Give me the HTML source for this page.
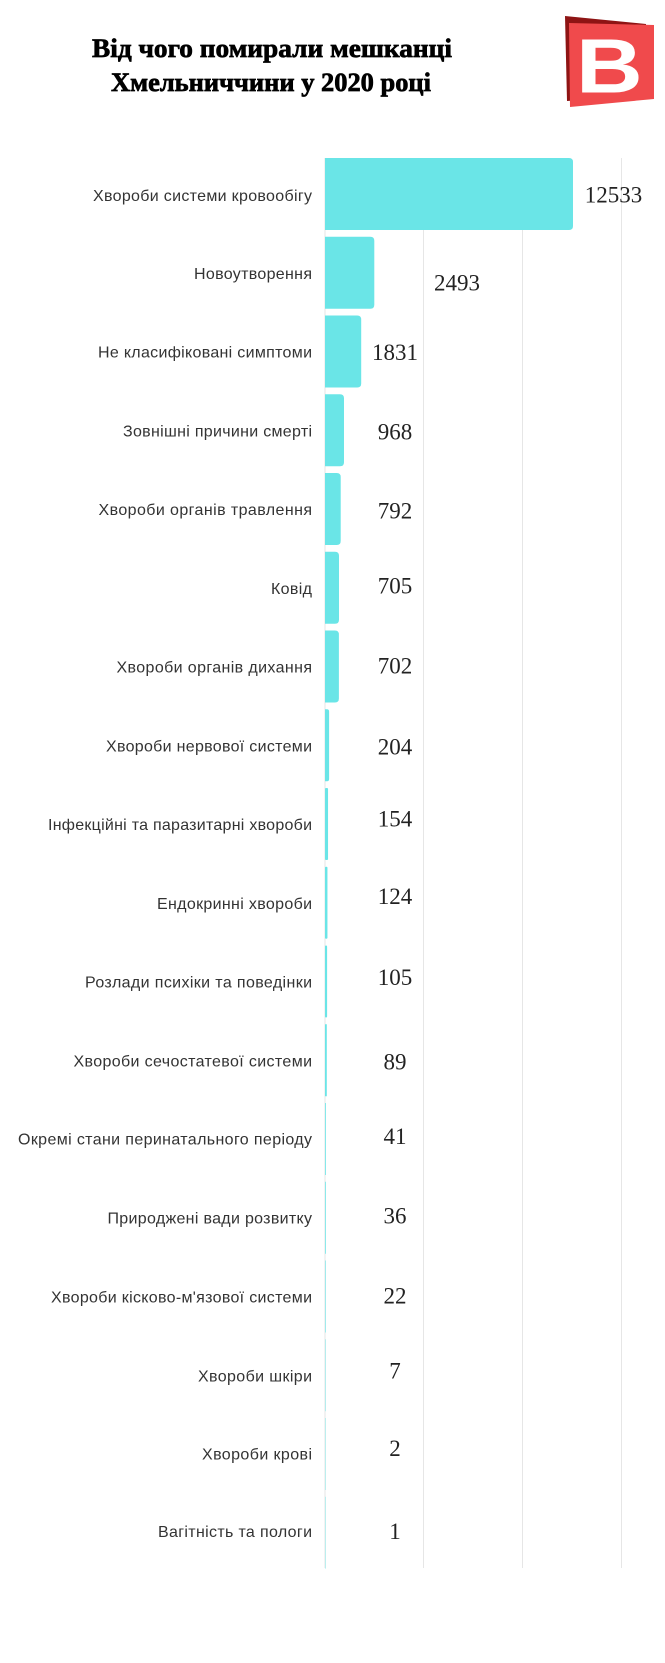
<!DOCTYPE html>
<html>
<head>
<meta charset="utf-8">
<style>
  html, body { margin: 0; padding: 0; background: #ffffff; }
  svg { display: block; }
  .lbl { font-family: "Liberation Sans", "DejaVu Sans", sans-serif; font-size: 16px; fill: #333333; }
  .val { font-family: "Liberation Serif", "DejaVu Serif", serif; font-size: 23px; fill: #222222; }
  .ttl { font-family: "Liberation Serif", "DejaVu Serif", serif; font-size: 26px; font-weight: bold; fill: #000; stroke: #000; stroke-width: 0.7px; }
</style>
</head>
<body>
<svg width="665" height="1663" viewBox="0 0 665 1663" xmlns="http://www.w3.org/2000/svg">
  <rect x="0" y="0" width="665" height="1663" fill="#ffffff"/>

  <!-- Title -->
  <text class="ttl" x="92" y="57" textLength="360" lengthAdjust="spacingAndGlyphs">Від чого помирали  мешканці</text>
  <text class="ttl" x="111" y="91" textLength="320" lengthAdjust="spacingAndGlyphs">Хмельниччини у 2020 році</text>

  <!-- Logo -->
  <polygon points="565,16 646,24 646,96 567,101" fill="#8e1414"/>
  <polygon points="569,23 654,25 654,99 570,107" fill="#f04a4c"/>
  <text x="0" y="0" transform="translate(576,92.7) scale(1.2,1)" font-family="Liberation Sans, DejaVu Sans, sans-serif" font-size="77" font-weight="bold" fill="#ffffff">B</text>

  <!-- Grid lines -->
  <g stroke="#e6e6e6" stroke-width="1">
    <line x1="325" y1="158" x2="325" y2="1568"/>
    <line x1="423.5" y1="158" x2="423.5" y2="1568"/>
    <line x1="522.5" y1="158" x2="522.5" y2="1568"/>
    <line x1="621.5" y1="158" x2="621.5" y2="1568"/>
  </g>

  <!-- Bars -->
  <g fill="#6ae5e7">
    <path d="M325,158 H569 Q573,158 573,162 V226 Q573,230 569,230 H325 Z"/>
    <path d="M325,236.75 H370.3 Q374.3,236.75 374.3,240.75 V304.75 Q374.3,308.75 370.3,308.75 H325 Z"/>
    <path d="M325,315.5 H357.2 Q361.2,315.5 361.2,319.5 V383.5 Q361.2,387.5 357.2,387.5 H325 Z"/>
    <path d="M325,394.25 H340 Q344,394.25 344,398.25 V462.25 Q344,466.25 340,466.25 H325 Z"/>
    <path d="M325,473 H336.7 Q340.7,473 340.7,477 V541 Q340.7,545 336.7,545 H325 Z"/>
    <path d="M325,551.75 H335 Q339,551.75 339,555.75 V619.75 Q339,623.75 335,623.75 H325 Z"/>
    <path d="M325,630.5 H334.9 Q338.9,630.5 338.9,634.5 V698.5 Q338.9,702.5 334.9,702.5 H325 Z"/>
    <path d="M325,709.25 H327 Q329.1,709.25 329.1,711.5 V779 Q329.1,781.25 327,781.25 H325 Z"/>
    <rect x="325" y="788" width="3.05" height="72" rx="1"/>
    <rect x="325" y="866.75" width="2.45" height="72" rx="1"/>
    <rect x="325" y="945.5" width="2.1" height="72" rx="1"/>
    <rect x="325" y="1024.25" width="1.8" height="72"/>
    <rect x="325" y="1103" width="1" height="72" opacity="0.8"/>
    <rect x="325" y="1181.75" width="1" height="72" opacity="0.75"/>
    <rect x="325" y="1260.5" width="1" height="72" opacity="0.6"/>
    <rect x="325" y="1339.25" width="1" height="72" opacity="0.45"/>
    <rect x="325" y="1418" width="1" height="72" opacity="0.4"/>
    <rect x="325" y="1496.75" width="1" height="72" opacity="0.4"/>
  </g>

  <!-- Category labels -->
  <g class="lbl" text-anchor="end">
    <text x="312" y="201" textLength="219">Хвороби системи кровообігу</text>
    <text x="312" y="279" textLength="118">Новоутворення</text>
    <text x="312" y="357.5" textLength="214">Не класифіковані симптоми</text>
    <text x="312" y="436.3" textLength="189">Зовнішні причини смерті</text>
    <text x="312" y="515" textLength="213.5">Хвороби органів травлення</text>
    <text x="312" y="593.8" textLength="41">Ковід</text>
    <text x="312" y="672.5" textLength="195.5">Хвороби органів дихання</text>
    <text x="312" y="751.3" textLength="206">Хвороби нервової системи</text>
    <text x="312" y="830" textLength="264">Інфекційні та паразитарні хвороби</text>
    <text x="312" y="908.8" textLength="155">Ендокринні хвороби</text>
    <text x="312" y="987.5" textLength="227">Розлади психіки та поведінки</text>
    <text x="312" y="1066.3" textLength="238.5">Хвороби сечостатевої системи</text>
    <text x="312" y="1144.5" textLength="294">Окремі стани перинатального періоду</text>
    <text x="312" y="1223.3" textLength="204.5">Природжені вади розвитку</text>
    <text x="312" y="1302.5" textLength="261">Хвороби кісково-м'язової системи</text>
    <text x="312" y="1381.3" textLength="114">Хвороби шкіри</text>
    <text x="312" y="1459.5" textLength="110">Хвороби крові</text>
    <text x="312" y="1537" textLength="154">Вагітність та пологи</text>
  </g>

  <!-- Value labels -->
  <g class="val" text-anchor="middle">
    <text x="613.5" y="202.7">12533</text>
    <text x="457" y="290.7">2493</text>
    <text x="395" y="360">1831</text>
    <text x="395" y="439.3">968</text>
    <text x="395" y="518.3">792</text>
    <text x="395" y="593.3">705</text>
    <text x="395" y="673.3">702</text>
    <text x="395" y="754.3">204</text>
    <text x="395" y="826.7">154</text>
    <text x="395" y="904">124</text>
    <text x="395" y="985">105</text>
    <text x="395" y="1069.3">89</text>
    <text x="395" y="1144">41</text>
    <text x="395" y="1223.3">36</text>
    <text x="395" y="1303.3">22</text>
    <text x="395" y="1378.3">7</text>
    <text x="395" y="1456">2</text>
    <text x="395" y="1539">1</text>
  </g>
</svg>
</body>
</html>
